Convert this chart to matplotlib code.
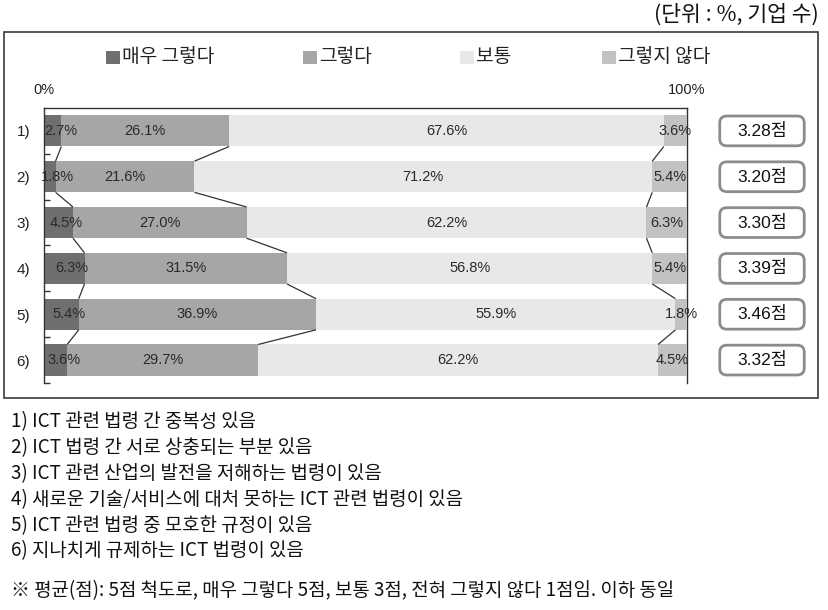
import matplotlib
matplotlib.use('Agg')
import matplotlib.pyplot as plt
from matplotlib.patches import Rectangle, FancyBboxPatch
from matplotlib.transforms import offset_copy
import numpy as np

# ---------------- data ----------------
categories = ['1)', '2)', '3)', '4)', '5)', '6)']
series_names = ['매우 그렇다', '그렇다', '보통', '그렇지 않다']
very_agree = [2.7, 1.8, 4.5, 6.3, 5.4, 3.6]
agree = [26.1, 21.6, 27.0, 31.5, 36.9, 29.7]
neutral = [67.6, 71.2, 62.2, 56.8, 55.9, 62.2]
disagree = [3.6, 5.4, 6.3, 5.4, 1.8, 4.5]
scores = [3.28, 3.20, 3.30, 3.39, 3.46, 3.32]
axis_end_labels = ['0%', '100%']
unit_text = '(단위 : %, 기업 수)'
item_notes = [
    '1) ICT 관련 법령 간 중복성 있음',
    '2) ICT 법령 간 서로 상충되는 부분 있음',
    '3) ICT 관련 산업의 발전을 저해하는 법령이 있음',
    '4) 새로운 기술/서비스에 대처 못하는 ICT 관련 법령이 있음',
    '5) ICT 관련 법령 중 모호한 규정이 있음',
    '6) 지나치게 규제하는 ICT 법령이 있음',
]
footnote = '※ 평균(점): 5점 척도로, 매우 그렇다 5점, 보통 3점, 전혀 그렇지 않다 1점임. 이하 동일'

# ---------------- style ----------------
colors = ['#6f6f6f', '#a6a6a6', '#e8e8e8', '#c2c2c2']
KR = ['Noto Sans CJK KR', 'DejaVu Sans']
LAT = ['Liberation Sans', 'Noto Sans CJK KR', 'DejaVu Sans']
plt.rcParams['font.family'] = KR

W, H = 829, 610
fig = plt.figure(figsize=(W / 100, H / 100), dpi=100)

# overlay in pixel coordinates for frame, legend, notes
ov = fig.add_axes([0, 0, 1, 1])
ov.set_xlim(0, W)
ov.set_ylim(H, 0)
ov.axis('off')

ov.add_patch(Rectangle((4, 32), 814, 366, fill=False, ec='#3a3a3a', lw=1.2))
ov.text(819, 15, unit_text, ha='right', va='center', fontsize=15.5,
        family=KR, color='#111111')

legend_x = [106, 303, 460, 602]
for xs, name, c in zip(legend_x, series_names, colors):
    ov.add_patch(Rectangle((xs, 50.5), 14, 13, fc=c, ec='none'))
    ov.text(xs + 16, 57, name, ha='left', va='center', fontsize=13.8,
            family=KR, color='#222222')

for k, line in enumerate(item_notes):
    ov.text(11, 422 + k * 25.8, line, ha='left', va='center', fontsize=13.6,
            family=KR, color='#111111')
ov.text(11, 591, footnote, ha='left', va='center', fontsize=13.6,
        family=KR, color='#111111')

# ---------------- bar axes ----------------
ax_l, ax_r, ax_t, ax_b = 44, 687, 108, 383
ax = fig.add_axes([ax_l / W, 1 - ax_b / H, (ax_r - ax_l) / W, (ax_b - ax_t) / H])
ax.patch.set_alpha(0)

series = [very_agree, agree, neutral, disagree]
y = np.arange(len(categories))
bh = 0.68
left = np.zeros(len(categories))
cums = []
for vals, c in zip(series, colors):
    vals = np.array(vals)
    ax.barh(y, vals, left=left, height=bh, color=c, edgecolor='none', zorder=2)
    left = left + vals
    cums.append(left.copy())

# connector lines
for cum in cums[:3]:
    for i in range(len(categories) - 1):
        ax.plot([cum[i], cum[i + 1]], [i + bh / 2, i + 1 - bh / 2],
                color='#333333', lw=0.9, zorder=3, solid_capstyle='butt')

# data labels
left = np.zeros(len(categories))
shift = offset_copy(ax.transData, fig=fig, x=8, y=0, units='dots')
for s, vals in enumerate(series):
    for i, v in enumerate(vals):
        tr = shift if s == 0 else ax.transData
        ax.text(left[i] + v / 2, i, f'{v:.1f}%', ha='center', va='center',
                fontsize=10.5, family=LAT, color='#2a2a2a', transform=tr, zorder=4)
    left = left + np.array(vals)

ax.set_xlim(0, 100)
ax.set_ylim(len(categories) - 0.5, -0.5)
for sp in ['left', 'top', 'right']:
    ax.spines[sp].set_color('#333333')
    ax.spines[sp].set_linewidth(1.0)
ax.spines['bottom'].set_visible(False)
ax.spines['right'].set_zorder(1)
ax.set_xticks([])
ax.set_yticks(y)
ax.set_yticklabels(categories, family=LAT, fontsize=11, color='#222222')
ax.tick_params(axis='y', which='major', length=0, pad=10)
ax.set_yticks(np.arange(len(categories)) + 0.5, minor=True)
ax.tick_params(axis='y', which='minor', length=4, direction='in', color='#333333', width=1)

ax.text(0, 1.065, axis_end_labels[0], transform=ax.transAxes, ha='center', va='center',
        fontsize=10.5, family=LAT, color='#222222')
ax.text(1, 1.065, axis_end_labels[1], transform=ax.transAxes, ha='center', va='center',
        fontsize=10.5, family=LAT, color='#222222')

# ---------------- score boxes ----------------
sb_l, sb_r = 718, 806
ax2 = fig.add_axes([sb_l / W, 1 - ax_b / H, (sb_r - sb_l) / W, (ax_b - ax_t) / H])
ax2.set_xlim(0, 1)
ax2.set_ylim(len(categories) - 0.5, -0.5)
ax2.axis('off')
px_x = sb_r - sb_l
px_y = (ax_b - ax_t) / len(categories)
bxh = 0.65
for i, sc in enumerate(scores):
    ax2.add_patch(FancyBboxPatch((0.02, i - bxh / 2), 0.96, bxh,
                                 boxstyle='round,pad=0,rounding_size=0.08',
                                 mutation_aspect=px_x / px_y,
                                 fc='white', ec='#8c8c8c', lw=2.0, clip_on=False))
    ax2.text(0.5, i, f'{sc:.2f}점', ha='center', va='center', fontsize=12.5,
             family=LAT, color='#111111')

fig.savefig('out.png', dpi=100)
